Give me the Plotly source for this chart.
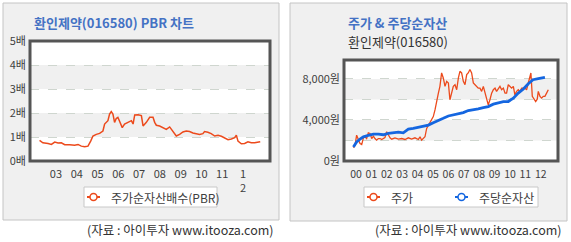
import plotly.graph_objects as go

W, H = 571, 242

# ---------------- data ----------------
pbr_year = [2002.21,2002.37,2002.62,2002.78,2002.94,2003.10,2003.26,2003.42,2003.66,2003.90,
            2004.06,2004.22,2004.38,2004.54,2004.67,2004.78,2004.94,2005.10,2005.26,2005.34,
            2005.50,2005.58,2005.66,2005.74,2005.82,2005.90,2005.98,2006.06,2006.19,2006.30,
            2006.46,2006.63,2006.71,2006.79,2006.95,2007.11,2007.19,2007.35,2007.51,2007.67,
            2007.75,2007.83,2007.99,2008.15,2008.31,2008.47,2008.63,2008.79,2008.95,2009.11,
            2009.27,2009.43,2009.59,2009.75,2009.91,2010.07,2010.15,2010.31,2010.47,2010.64,
            2010.80,2010.96,2011.12,2011.28,2011.44,2011.60,2011.68,2011.76,2011.92,2012.08,
            2012.24,2012.40,2012.56,2012.72,2012.83]
pbr_value = [0.86,0.76,0.73,0.69,0.79,0.75,0.76,0.68,0.68,0.66,
             0.69,0.62,0.59,0.62,0.83,1.04,1.11,1.15,1.25,1.54,
             1.68,1.96,2.06,1.96,1.61,1.77,1.82,1.68,1.39,1.54,
             1.61,1.68,1.54,1.92,1.93,1.89,1.46,1.61,1.82,1.82,
             1.61,1.49,1.46,1.39,1.32,1.42,1.25,1.04,1.11,1.21,
             1.25,1.23,1.17,1.14,1.11,1.14,1.23,1.20,1.14,1.04,
             1.07,1.03,0.97,0.89,0.92,0.97,1.08,0.83,0.72,0.73,
             0.80,0.76,0.76,0.79,0.80]

price_year = [1999.83,1999.94,2000.04,2000.15,2000.26,2000.37,2000.48,2000.58,2000.69,2000.80,
              2000.91,2001.02,2001.13,2001.23,2001.34,2001.45,2001.56,2001.67,2001.88,2001.99,
              2002.10,2002.21,2002.32,2002.53,2002.75,2002.97,2003.18,2003.40,2003.61,2003.83,
              2004.05,2004.16,2004.26,2004.48,2004.59,2004.70,2004.81,2004.91,2005.02,2005.13,
              2005.24,2005.35,2005.45,2005.56,2005.67,2005.78,2005.89,2006.00,2006.10,2006.21,
              2006.32,2006.43,2006.54,2006.65,2006.75,2006.86,2006.97,2007.08,2007.19,2007.29,
              2007.40,2007.51,2007.62,2007.73,2007.84,2007.94,2008.05,2008.16,2008.27,2008.38,
              2008.48,2008.59,2008.70,2008.81,2008.92,2009.03,2009.13,2009.24,2009.35,2009.46,
              2009.57,2009.68,2009.78,2009.89,2010.00,2010.11,2010.22,2010.32,2010.43,2010.54,
              2010.65,2010.76,2010.97,2011.08,2011.19,2011.30,2011.36,2011.45,2011.56,2011.67,
              2011.77,2011.84,2011.95,2012.06,2012.16,2012.27,2012.38,2012.49]
price_value = [1310,1540,2520,2030,1700,1600,2260,2360,2190,2750,
               2690,2190,2420,2190,2030,2190,2190,2100,2290,2850,
               2520,2260,2130,2260,2130,2190,2100,2260,2130,2260,
               2100,2360,2030,2360,3180,3500,3670,4000,4330,4980,
               5970,6620,7280,8590,8100,7280,7770,7610,5970,6790,
               7280,7440,6950,8100,8750,8590,7770,7440,8430,8590,
               8920,8590,7610,7440,7280,7110,7110,6790,7280,6620,
               6130,5470,5970,6620,6950,7110,6790,7110,7280,6950,
               7110,6620,6620,7440,7280,7110,7280,6460,6790,6950,
               6790,7110,7110,6950,7610,8430,8590,6300,5970,5800,
               6030,6790,6300,6130,6300,6300,6620,6950]

bps_year = [1999.83,2000.04,2000.26,2000.48,2000.80,2001.13,2001.45,2001.77,2002.10,2002.42,
            2002.75,2003.07,2003.40,2003.72,2004.05,2004.37,2004.70,2005.02,2005.35,2005.67,
            2006.00,2006.32,2006.65,2006.97,2007.29,2007.62,2007.94,2008.27,2008.59,2008.92,
            2009.24,2009.57,2009.89,2010.22,2010.54,2010.87,2011.19,2011.50,2011.84,2012.27]
bps_value = [1370,1860,2130,2360,2490,2620,2620,2560,2690,2750,
             2820,2750,3110,3180,3280,3340,3500,3740,3930,4160,
             4390,4490,4590,4720,4920,4980,5080,5210,5310,5540,
             5700,5800,5800,6130,6620,7020,7540,7930,8030,8160]

left_ticks = [2003, 2004, 2005, 2006, 2007, 2008, 2009, 2010, 2011, 2012]
left_ticktext = ["03", "04", "05", "06", "07", "08", "09", "10", "11", "1<br>2"]
left_yticks = [0, 1, 2, 3, 4, 5]
left_yticktext = ["0배", "1배", "2배", "3배", "4배", "5배"]

right_ticks = list(range(2000, 2013))
right_ticktext = ["00", "01", "02", "03", "04", "05", "06", "07", "08", "09", "10", "11", "12"]
right_yticks = [0, 2000, 4000, 6000, 8000]
right_yticktext = ["0원", "", "4,000원", "", "8,000원"]

legend_left = ["주가순자산배수(PBR)"]
legend_right = ["주가", "주당순자산"]

# ---------------- styling ----------------
FONT = "Noto Sans CJK KR"
RED = "#ec4a1c"
BLUE = "#1466e0"
TXT = "#404040"
TITLE_BLUE = "#4472c4"
GRID = "#cfd6cf"
BAND = "#f0f0f0"
PANEL = "#f0f0f0"


def px(x):
    return x / W


def py(y):
    return 1 - y / H


fig = go.Figure()

fig.add_trace(go.Scatter(x=pbr_year, y=pbr_value, mode="lines", name=legend_left[0],
                         line=dict(color=RED, width=1.5), showlegend=False,
                         xaxis="x", yaxis="y"))
fig.add_trace(go.Scatter(x=price_year, y=price_value, mode="lines", name=legend_right[0],
                         line=dict(color=RED, width=1.3), showlegend=False,
                         xaxis="x2", yaxis="y2"))
fig.add_trace(go.Scatter(x=bps_year, y=bps_value, mode="lines", name=legend_right[1],
                         line=dict(color=BLUE, width=2.8), showlegend=False,
                         xaxis="x2", yaxis="y2"))

shapes = []
annotations = []
# panels
shapes.append(dict(type="rect", xref="paper", yref="paper", x0=px(3), x1=px(279), y0=py(220), y1=py(3),
                   fillcolor=PANEL, line=dict(color="#c4c4c4", width=1), layer="below"))
shapes.append(dict(type="rect", xref="paper", yref="paper", x0=px(290), x1=px(567), y0=py(221), y1=py(3),
                   fillcolor=PANEL, line=dict(color="#c4c4c4", width=1), layer="below"))
# plot area white backgrounds
for xr, yr in (("x", "y"), ("x2", "y2")):
    shapes.append(dict(type="rect", xref=xr + " domain", yref=yr + " domain", x0=0, x1=1, y0=0, y1=1,
                       fillcolor="white", line=dict(width=0), layer="below"))
# bands
for a, b in ((1, 2), (3, 4)):
    shapes.append(dict(type="rect", xref="x domain", yref="y", x0=0, x1=1, y0=a, y1=b,
                       fillcolor=BAND, line=dict(width=0), layer="below"))
for a, b in ((2000, 4000), (6000, 8000)):
    shapes.append(dict(type="rect", xref="x2 domain", yref="y2", x0=0, x1=1, y0=a, y1=b,
                       fillcolor=BAND, line=dict(width=0), layer="below"))
# plot borders
for xr, yr in (("x", "y"), ("x2", "y2")):
    shapes.append(dict(type="rect", xref=xr + " domain", yref=yr + " domain", x0=0, x1=1, y0=0, y1=1,
                       fillcolor="rgba(0,0,0,0)", line=dict(color="#555555", width=3), layer="above"))

# legends (boxes, symbols, labels)
def legend_box(x0, x1, y0, y1):
    shapes.append(dict(type="rect", xref="paper", yref="paper", x0=px(x0), x1=px(x1), y0=py(y1), y1=py(y0),
                       fillcolor="white", line=dict(color="#c8c8c8", width=1), layer="above"))


def legend_item(sx, ty, color, text):
    shapes.append(dict(type="line", xref="paper", yref="paper", x0=px(sx), x1=px(sx + 13),
                       y0=py(ty), y1=py(ty), line=dict(color=color, width=2), layer="above"))
    shapes.append(dict(type="circle", xref="paper", yref="paper", x0=px(sx + 3), x1=px(sx + 10),
                       y0=py(ty + 3.5), y1=py(ty - 3.5), fillcolor="white",
                       line=dict(color=color, width=1.5), layer="above"))
    annotations.append(dict(text=text, x=px(sx + 22), y=py(ty), xref="paper", yref="paper",
                            xanchor="left", yanchor="middle", showarrow=False,
                            font=dict(family=FONT, size=12, color=TXT)))


legend_box(84, 217, 187, 207)
legend_item(87, 197, RED, legend_left[0])
legend_box(364, 538, 187, 207)
legend_item(367, 197, RED, legend_right[0])
legend_item(455, 197, BLUE, legend_right[1])

annotations += [
    dict(text="<b>환인제약(016580) PBR 차트</b>", x=px(32), y=py(22), xref="paper", yref="paper",
         xanchor="left", yanchor="middle", showarrow=False, font=dict(family=FONT, size=13, color=TITLE_BLUE)),
    dict(text="<b>주가 & 주당순자산</b>", x=px(346), y=py(22), xref="paper", yref="paper",
         xanchor="left", yanchor="middle", showarrow=False, font=dict(family=FONT, size=13, color=TITLE_BLUE)),
    dict(text="환인제약(016580)", x=px(346), y=py(42), xref="paper", yref="paper",
         xanchor="left", yanchor="middle", showarrow=False, font=dict(family=FONT, size=13, color="#333333")),
    dict(text="(자료 : 아이투자 www.itooza.com)", x=px(276), y=py(229), xref="paper", yref="paper",
         xanchor="right", yanchor="middle", showarrow=False, font=dict(family=FONT, size=12.5, color="#333333")),
    dict(text="(자료 : 아이투자 www.itooza.com)", x=px(564), y=py(229), xref="paper", yref="paper",
         xanchor="right", yanchor="middle", showarrow=False, font=dict(family=FONT, size=12.5, color="#333333")),
]

tickfont = dict(family=FONT, size=11, color=TXT)
tickfont_r = dict(family=FONT, size=10.5, color=TXT)

fig.update_layout(
    width=W, height=H,
    margin=dict(l=0, r=0, t=0, b=0, autoexpand=False),
    paper_bgcolor="white",
    plot_bgcolor="white",
    showlegend=False,
    font=dict(family=FONT, size=11, color=TXT),
    shapes=shapes,
    annotations=annotations,
    xaxis=dict(domain=[px(30), px(270)], range=[2001.75, 2013.30], tickvals=left_ticks,
               ticktext=left_ticktext, showgrid=False, zeroline=False, showline=False,
               ticks="", tickangle=0, tickfont=tickfont, anchor="y", ticklabelstandoff=5,
               automargin=False),
    yaxis=dict(domain=[py(161), py(41)], range=[0, 5], tickvals=left_yticks, ticktext=left_yticktext,
               showgrid=True, gridcolor=GRID, griddash="dash", gridwidth=1, zeroline=False,
               showline=False, ticks="", tickfont=tickfont, anchor="x", ticklabelstandoff=3,
               automargin=False),
    xaxis2=dict(domain=[px(344), px(558)], range=[1999.22, 2013.12], tickvals=right_ticks,
                ticktext=right_ticktext, showgrid=False, zeroline=False, showline=False,
                ticks="", tickangle=0, tickfont=tickfont_r, anchor="y2", ticklabelstandoff=5,
                automargin=False),
    yaxis2=dict(domain=[py(161), py(60)], range=[0, 9850], tickvals=right_yticks,
                ticktext=right_yticktext, showgrid=True, gridcolor=GRID, griddash="dash",
                gridwidth=1, zeroline=False, showline=False, ticks="", tickfont=tickfont, anchor="x2",
                ticklabelstandoff=3, automargin=False),
)

fig.write_html("out.html", config=dict(displayModeBar=False))
